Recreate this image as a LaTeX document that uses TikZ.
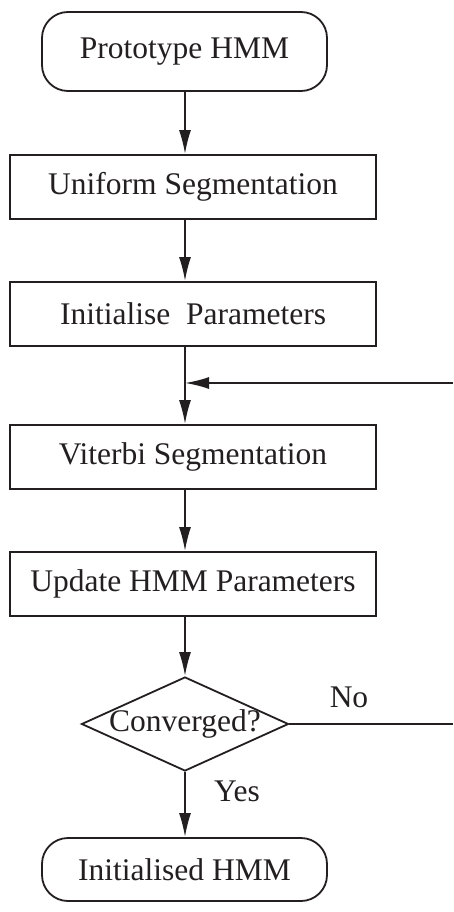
\documentclass[tikz,border=0pt]{standalone}
\usepackage{fontspec}
\setmainfont{Liberation Serif}
\usetikzlibrary{arrows.meta,shapes.geometric}
\definecolor{ink}{HTML}{231F20}
\begin{document}
\begin{tikzpicture}[x=1pt,y=1pt,
  every node/.style={font=\fontsize{31.5}{36}\selectfont, text=ink},
  stepbox/.style={draw=ink, line width=1.8pt, rectangle, minimum width=366pt, minimum height=64pt, inner sep=0pt},
  termbox/.style={draw=ink, line width=1.8pt, rectangle, rounded corners=26pt, minimum width=285pt, minimum height=79pt, inner sep=0pt},
  decbox/.style={draw=ink, line width=1.8pt, diamond, minimum width=207pt, minimum height=94pt, inner sep=0pt},
  flow/.style={draw=ink, line width=1.8pt, -{Latex[length=24pt,width=12pt]}},
  plain/.style={draw=ink, line width=1.8pt}
]
\useasboundingbox (0,0) rectangle (453,-912);
\node[termbox] (proto) at (184.5,-51.5) {Prototype HMM};
\node[stepbox] (unif) at (193,-187) {Uniform Segmentation};
\node[stepbox] (init) at (193,-314) {Initialise\ \ Parameters};
\node[stepbox] (vit) at (193,-457) {Viterbi Segmentation};
\node[stepbox] (upd) at (193,-584) {Update HMM Parameters};
\node[decbox] (conv) at (185,-724) {};
\node (convtext) at (185,-724) {Converged?};
\node[termbox, minimum height=63pt] (fin) at (184.5,-869.5) {Initialised HMM};
\coordinate (j) at (185,-383);
\coordinate (fbtop) at (453,-383);
\coordinate (fbbot) at (453,-724);
\draw[flow] (proto.south -| j) -- (unif.north -| j);
\draw[flow] (unif.south -| j) -- (init.north -| j);
\draw[flow] (init.south -| j) -- (vit.north -| j);
\draw[flow] (fbtop) -- (j);
\draw[flow] (vit.south -| j) -- (upd.north -| j);
\draw[flow] (upd.south -| j) -- (conv.north);
\draw[flow] (conv.south) -- (fin.north -| conv.south);
\draw[plain] (conv.east) -- (fbbot);
\node (no) at (349,-697) {No};
\node (yes) at (237,-791) {Yes};
\end{tikzpicture}
\end{document}
